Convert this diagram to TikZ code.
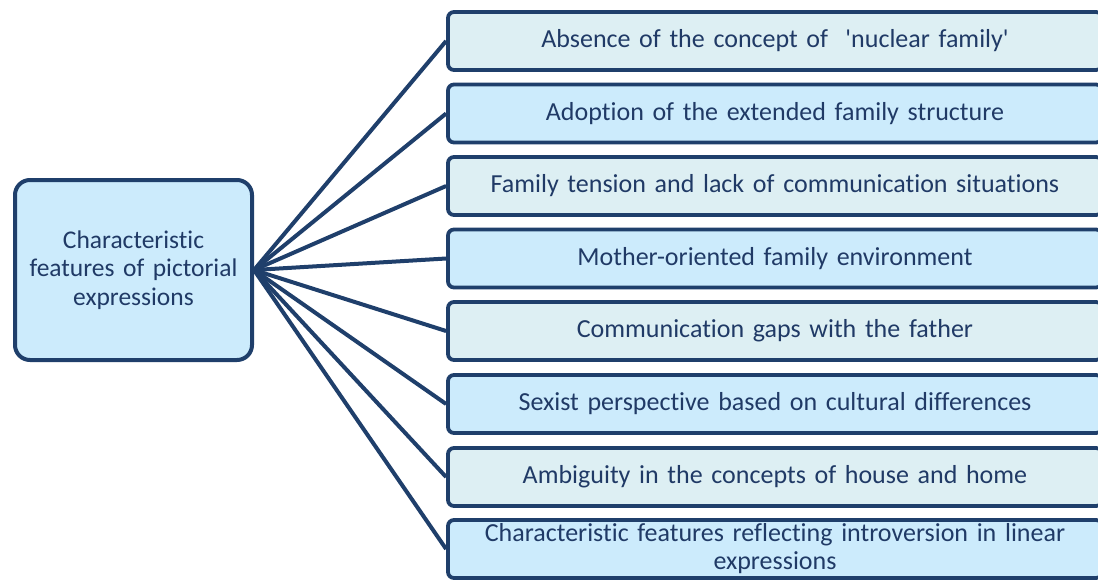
\documentclass[tikz,border=0pt]{standalone}
\usepackage{fontspec}
\setmainfont{Carlito}[Ligatures={NoCommon,TeXOff}]
\definecolor{navy}{HTML}{1F3F6B}
\definecolor{txt}{HTML}{203A66}
\definecolor{fillA}{HTML}{DDEFF3}
\definecolor{fillB}{HTML}{CCEBFC}
\tikzset{
  rbox/.style={draw=navy, line width=3.8pt, rounded corners=6pt, minimum width=654pt, minimum height=58pt, inner sep=0pt, align=center, text=txt, font=\fontsize{26}{28}\selectfont, text width=640pt},
  lbox/.style={draw=navy, line width=4pt, rounded corners=15pt, fill=fillB, minimum width=237pt, minimum height=180pt, inner sep=0pt, align=center, text=txt, font=\fontsize{25.5}{28.5}\selectfont, text width=230pt},
  conn/.style={draw=navy, line width=4pt}
}
\begin{document}
\begin{tikzpicture}[x=1pt,y=-1pt]
\useasboundingbox (0,0) rectangle (1098,581);
\node[lbox] (L) at (133.5,270) {Characteristic\\features of pictorial\\expressions};
\node[rbox, fill=fillA] (b1) at (775,41) {Absence of the concept of \ 'nuclear family'};
\node[rbox, fill=fillB] (b2) at (775,113.5) {Adoption of the extended family structure};
\node[rbox, fill=fillA] (b3) at (775,186) {Family tension and lack of communication situations};
\node[rbox, fill=fillB] (b4) at (775,258.5) {Mother-oriented family environment};
\node[rbox, fill=fillA] (b5) at (775,331) {Communication gaps with the father};
\node[rbox, fill=fillB] (b6) at (775,404) {Sexist perspective based on cultural differences};
\node[rbox, fill=fillA] (b7) at (775,477) {Ambiguity in the concepts of house and home};
\node[rbox, fill=fillB] (b8) at (775,549) {Characteristic features reflecting introversion in linear\\expressions};
\foreach \i in {1,...,8} \draw[conn] (L.east) -- (b\i.west);
\end{tikzpicture}
\end{document}
